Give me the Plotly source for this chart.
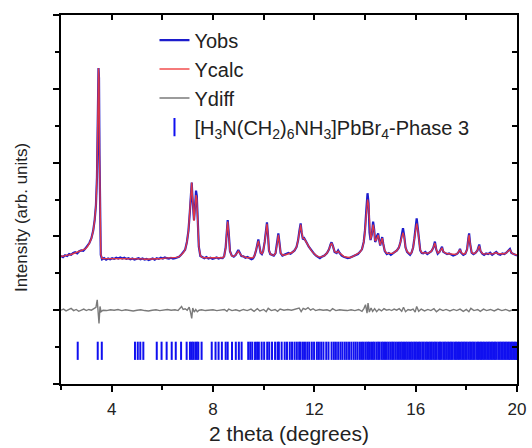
import plotly.graph_objects as go

# ---- data ----
theta = [2.00, 2.08, 2.16, 2.24, 2.32, 2.40, 2.48, 2.56, 2.64, 2.72, 2.80, 2.88, 2.96, 3.04, 3.12, 3.20, 3.27, 3.33, 3.38, 3.42,
         3.45, 3.48, 3.50, 3.52, 3.54, 3.57, 3.62, 3.70, 3.78, 3.86, 3.94, 4.02, 4.10, 4.18, 4.26, 4.34, 4.42, 4.50, 4.58, 4.66,
         4.74, 4.82, 4.90, 4.98, 5.06, 5.14, 5.22, 5.30, 5.38, 5.46, 5.54, 5.62, 5.70, 5.78, 5.86, 5.94, 6.02, 6.10, 6.18, 6.26,
         6.34, 6.42, 6.50, 6.58, 6.66, 6.74, 6.82, 6.90, 6.97, 7.03, 7.08, 7.12, 7.16, 7.19, 7.22, 7.25, 7.29, 7.33, 7.36, 7.40,
         7.44, 7.50, 7.58, 7.66, 7.74, 7.82, 7.90, 7.98, 8.06, 8.14, 8.22, 8.30, 8.38, 8.44, 8.50, 8.55, 8.58, 8.62, 8.67, 8.74,
         8.82, 8.90, 8.96, 9.00, 9.06, 9.12, 9.20, 9.28, 9.36, 9.44, 9.52, 9.58, 9.64, 9.70, 9.75, 9.79, 9.83, 9.88, 9.93, 9.98,
         10.04, 10.09, 10.13, 10.17, 10.21, 10.26, 10.32, 10.40, 10.47, 10.53, 10.58, 10.62, 10.67, 10.74, 10.82, 10.90, 10.98, 11.06, 11.14, 11.22,
         11.30, 11.36, 11.41, 11.46, 11.50, 11.55, 11.60, 11.66, 11.72, 11.78, 11.85, 11.92, 12.00, 12.08, 12.16, 12.22, 12.30, 12.40, 12.50, 12.58,
         12.64, 12.68, 12.73, 12.80, 12.88, 12.94, 13.00, 13.08, 13.16, 13.24, 13.32, 13.40, 13.48, 13.56, 13.64, 13.72, 13.80, 13.88, 13.95, 14.00,
         14.05, 14.10, 14.14, 14.18, 14.22, 14.27, 14.32, 14.36, 14.40, 14.44, 14.48, 14.52, 14.56, 14.60, 14.64, 14.68, 14.72, 14.78, 14.86, 14.94,
         15.02, 15.10, 15.18, 15.26, 15.34, 15.40, 15.45, 15.50, 15.55, 15.60, 15.66, 15.72, 15.78, 15.84, 15.90, 15.95, 16.00, 16.04, 16.08, 16.13,
         16.18, 16.24, 16.30, 16.38, 16.46, 16.54, 16.62, 16.70, 16.76, 16.81, 16.87, 16.94, 17.00, 17.04, 17.09, 17.16, 17.24, 17.32, 17.40, 17.48,
         17.56, 17.64, 17.70, 17.75, 17.80, 17.88, 17.96, 18.03, 18.08, 18.11, 18.15, 18.21, 18.28, 18.36, 18.44, 18.51, 18.56, 18.63, 18.70, 18.78,
         18.86, 18.94, 19.02, 19.10, 19.18, 19.26, 19.34, 19.42, 19.50, 19.58, 19.66, 19.72, 19.78, 19.86, 19.94, 20.00]

y_obs = [3.47, 3.44, 3.49, 3.47, 3.52, 3.50, 3.55, 3.57, 3.54, 3.60, 3.62, 3.61, 3.67, 3.74, 3.82, 3.95, 4.15, 4.45, 4.85, 5.60,
         6.90, 8.56, 8.30, 6.20, 4.30, 3.50, 3.38, 3.41, 3.37, 3.40, 3.38, 3.41, 3.39, 3.42, 3.40, 3.43, 3.40, 3.42, 3.39, 3.41,
         3.38, 3.40, 3.37, 3.39, 3.41, 3.38, 3.40, 3.37, 3.39, 3.36, 3.38, 3.40, 3.37, 3.41, 3.39, 3.42, 3.40, 3.43, 3.41, 3.40,
         3.42, 3.40, 3.41, 3.43, 3.45, 3.50, 3.56, 3.64, 3.85, 4.15, 4.60, 5.10, 5.46, 5.05, 4.50, 4.44, 4.80, 5.24, 5.10, 4.40,
         3.72, 3.47, 3.43, 3.41, 3.44, 3.40, 3.42, 3.39, 3.41, 3.43, 3.40, 3.42, 3.41, 3.46, 3.70, 4.20, 4.44, 4.10, 3.60, 3.48,
         3.45, 3.50, 3.58, 3.63, 3.55, 3.47, 3.46, 3.42, 3.44, 3.41, 3.38, 3.40, 3.48, 3.62, 3.82, 3.92, 3.75, 3.55, 3.52, 3.60,
         3.85, 4.20, 4.38, 4.05, 3.62, 3.52, 3.50, 3.48, 3.55, 3.80, 4.08, 3.85, 3.55, 3.48, 3.50, 3.52, 3.55, 3.53, 3.58, 3.62,
         3.72, 3.90, 4.15, 4.35, 4.10, 3.92, 3.95, 3.85, 3.80, 3.72, 3.65, 3.58, 3.52, 3.47, 3.43, 3.41, 3.45, 3.48, 3.55, 3.65,
         3.78, 3.84, 3.75, 3.58, 3.55, 3.62, 3.55, 3.48, 3.45, 3.43, 3.41, 3.42, 3.44, 3.47, 3.50, 3.52, 3.58, 3.65, 3.85, 4.17,
         4.70, 5.17, 4.90, 4.10, 3.90, 4.05, 4.40, 4.20, 3.85, 3.90, 4.02, 4.08, 3.90, 3.75, 3.88, 3.98, 3.80, 3.60, 3.52, 3.55,
         3.50, 3.53, 3.58, 3.62, 3.70, 3.85, 4.05, 4.22, 4.00, 3.70, 3.58, 3.53, 3.50, 3.56, 3.70, 3.95, 4.30, 4.49, 4.25, 3.85,
         3.62, 3.55, 3.54, 3.58, 3.52, 3.56, 3.60, 3.70, 3.86, 3.65, 3.53, 3.58, 3.68, 3.72, 3.58, 3.55, 3.52, 3.54, 3.50, 3.48,
         3.50, 3.53, 3.58, 3.66, 3.55, 3.50, 3.53, 3.65, 3.95, 4.08, 3.80, 3.56, 3.52, 3.55, 3.62, 3.78, 3.60, 3.53, 3.50, 3.54,
         3.52, 3.56, 3.50, 3.53, 3.58, 3.52, 3.50, 3.54, 3.52, 3.56, 3.62, 3.66, 3.55, 3.52, 3.50, 3.48]

y_calc = [3.47, 3.46, 3.48, 3.48, 3.50, 3.51, 3.53, 3.55, 3.56, 3.58, 3.60, 3.62, 3.66, 3.72, 3.81, 3.94, 4.14, 4.44, 4.85, 5.62,
          6.95, 8.56, 8.32, 6.25, 4.35, 3.52, 3.40, 3.40, 3.39, 3.39, 3.39, 3.40, 3.40, 3.40, 3.40, 3.41, 3.41, 3.40, 3.40, 3.40,
          3.39, 3.39, 3.39, 3.39, 3.39, 3.39, 3.39, 3.38, 3.38, 3.38, 3.38, 3.39, 3.39, 3.39, 3.40, 3.40, 3.40, 3.41, 3.41, 3.41,
          3.41, 3.41, 3.42, 3.43, 3.45, 3.49, 3.55, 3.64, 3.84, 4.14, 4.62, 5.15, 5.46, 5.08, 4.52, 4.42, 4.76, 5.12, 5.02, 4.38,
          3.74, 3.48, 3.43, 3.42, 3.42, 3.41, 3.41, 3.41, 3.41, 3.41, 3.41, 3.41, 3.42, 3.46, 3.68, 4.18, 4.40, 4.08, 3.60, 3.47,
          3.46, 3.50, 3.57, 3.60, 3.54, 3.48, 3.45, 3.43, 3.42, 3.42, 3.41, 3.42, 3.48, 3.62, 3.80, 3.88, 3.74, 3.56, 3.53, 3.60,
          3.84, 4.18, 4.34, 4.04, 3.63, 3.53, 3.50, 3.49, 3.55, 3.79, 4.04, 3.84, 3.56, 3.49, 3.49, 3.51, 3.53, 3.54, 3.57, 3.62,
          3.72, 3.90, 4.14, 4.32, 4.12, 3.95, 3.94, 3.86, 3.79, 3.72, 3.65, 3.58, 3.52, 3.48, 3.45, 3.44, 3.45, 3.48, 3.55, 3.65,
          3.77, 3.82, 3.74, 3.59, 3.56, 3.60, 3.55, 3.49, 3.46, 3.44, 3.43, 3.43, 3.44, 3.47, 3.49, 3.52, 3.57, 3.65, 3.84, 4.15,
          4.66, 5.00, 4.86, 4.12, 3.92, 4.04, 4.32, 4.18, 3.88, 3.90, 4.00, 4.04, 3.90, 3.77, 3.87, 3.95, 3.80, 3.61, 3.54, 3.54,
          3.52, 3.54, 3.58, 3.62, 3.70, 3.84, 4.02, 4.10, 3.98, 3.70, 3.59, 3.54, 3.52, 3.56, 3.70, 3.94, 4.26, 4.35, 4.20, 3.84,
          3.63, 3.56, 3.55, 3.56, 3.54, 3.56, 3.60, 3.70, 3.82, 3.66, 3.55, 3.58, 3.66, 3.69, 3.59, 3.55, 3.53, 3.53, 3.52, 3.51,
          3.51, 3.53, 3.58, 3.64, 3.56, 3.52, 3.54, 3.64, 3.93, 4.04, 3.80, 3.57, 3.53, 3.55, 3.62, 3.75, 3.61, 3.54, 3.52, 3.53,
          3.53, 3.54, 3.52, 3.53, 3.56, 3.53, 3.52, 3.53, 3.53, 3.55, 3.61, 3.64, 3.56, 3.52, 3.51, 3.50]

theta_diff = [2.00, 2.10, 2.20, 2.30, 2.40, 2.50, 2.60, 2.70, 2.80, 2.90, 3.00, 3.10, 3.20, 3.30, 3.38, 3.43, 3.47, 3.50, 3.54, 3.58,
              3.66, 3.80, 3.95, 4.10, 4.25, 4.40, 4.55, 4.70, 4.85, 5.00, 5.15, 5.30, 5.45, 5.60, 5.75, 5.90, 6.05, 6.20, 6.35, 6.50,
              6.62, 6.70, 6.76, 6.82, 6.90, 6.98, 7.06, 7.12, 7.16, 7.20, 7.26, 7.32, 7.38, 7.45, 7.55, 7.70, 7.85, 8.00, 8.15, 8.30,
              8.45, 8.55, 8.62, 8.75, 8.90, 9.05, 9.20, 9.35, 9.50, 9.62, 9.75, 9.85, 10.00, 10.10, 10.18, 10.30, 10.45, 10.55, 10.65, 10.80,
              10.95, 11.10, 11.25, 11.40, 11.48, 11.56, 11.65, 11.75, 11.85, 11.95, 12.05, 12.20, 12.35, 12.50, 12.62, 12.72, 12.85, 13.00, 13.15, 13.30,
              13.45, 13.60, 13.75, 13.88, 13.96, 14.02, 14.08, 14.12, 14.17, 14.24, 14.30, 14.38, 14.46, 14.55, 14.65, 14.75, 14.85, 14.95, 15.05, 15.15,
              15.25, 15.35, 15.45, 15.52, 15.60, 15.70, 15.80, 15.90, 15.98, 16.04, 16.12, 16.22, 16.35, 16.48, 16.60, 16.72, 16.82, 16.95, 17.08, 17.20,
              17.35, 17.50, 17.62, 17.75, 17.88, 18.00, 18.10, 18.18, 18.30, 18.45, 18.55, 18.68, 18.80, 18.95, 19.10, 19.25, 19.40, 19.55, 19.70, 19.85,
              20.00]

y_diff = [2.00, 2.03, 1.98, 2.02, 2.05, 1.99, 2.02, 1.97, 2.01, 2.03, 1.99, 2.02, 2.00, 2.04, 2.08, 2.28, 1.95, 1.64, 2.10, 1.96,
          2.00, 1.99, 2.01, 2.00, 2.02, 1.99, 2.01, 2.00, 1.98, 2.00, 2.01, 1.99, 1.98, 2.00, 2.01, 1.99, 2.00, 2.02, 2.00, 2.01,
          1.99, 2.05, 2.10, 2.02, 2.04, 2.00, 2.08, 1.92, 1.78, 2.06, 1.95, 2.02, 1.96, 2.00, 2.01, 1.99, 2.00, 2.01, 1.99, 2.00,
          2.02, 1.97, 2.03, 1.99, 2.01, 1.98, 2.02, 1.99, 2.03, 1.97, 2.04, 1.98, 2.02, 1.96, 2.05, 1.99, 2.02, 1.97, 2.03, 2.00,
          2.02, 2.00, 2.03, 2.06, 1.96, 2.05, 2.02, 2.07, 2.00, 2.04, 1.99, 2.02, 2.00, 2.01, 1.98, 2.04, 1.99, 2.01, 2.00, 1.99,
          2.01, 1.99, 2.02, 1.97, 2.05, 2.15, 1.92, 2.19, 1.95, 2.06, 1.97, 2.04, 1.96, 2.03, 1.98, 2.04, 2.00, 2.02, 1.99, 2.03,
          2.00, 2.04, 1.97, 2.08, 1.96, 2.02, 2.00, 2.03, 1.95, 2.10, 1.97, 2.03, 1.98, 2.02, 1.99, 2.04, 1.96, 2.03, 1.99, 2.02,
          1.98, 2.02, 1.99, 2.03, 1.97, 2.02, 1.96, 2.05, 1.99, 2.02, 1.97, 2.03, 1.99, 2.02, 1.98, 2.03, 1.99, 2.02, 1.98, 2.01,
          2.00]

bragg_theta = [2.66, 3.45, 3.61, 4.92, 5.03, 5.13, 5.25, 5.78, 5.97, 6.17, 6.37, 6.53, 6.74, 6.96, 7.09, 7.16, 7.22, 7.30, 7.36, 7.42,
               7.55, 7.95, 8.10, 8.22, 8.35, 8.50, 8.58, 8.75, 8.90, 9.02, 9.13, 9.39, 9.47, 9.55, 9.66, 9.74, 9.81, 9.92, 10.02, 10.14,
               10.22, 10.33, 10.45, 10.55, 10.60, 10.71, 10.83, 10.92, 11.03, 11.12, 11.22, 11.31, 11.40, 11.46, 11.55, 11.63, 11.72, 11.80, 11.90, 11.99,
               12.10, 12.18, 12.27, 12.36, 12.47, 12.56, 12.68, 12.77, 12.85, 12.94, 13.03, 13.11, 13.20, 13.28, 13.37, 13.46, 13.55, 13.63, 13.71, 13.80,
               13.88, 13.95, 14.03, 14.10, 14.16, 14.24, 14.31, 14.37, 14.45, 14.52, 14.58, 14.66, 14.72, 14.79, 14.86, 14.93, 15.00, 15.07, 15.13, 15.20,
               15.27, 15.34, 15.41, 15.47, 15.54, 15.61, 15.67, 15.74, 15.81, 15.87, 15.94, 16.00, 16.06, 16.13, 16.19, 16.26, 16.32, 16.39, 16.45, 16.52,
               16.58, 16.64, 16.71, 16.77, 16.83, 16.90, 16.96, 17.02, 17.09, 17.15, 17.21, 17.28, 17.34, 17.40, 17.46, 17.53, 17.59, 17.65, 17.71, 17.78,
               17.84, 17.90, 17.96, 18.02, 18.09, 18.15, 18.21, 18.27, 18.33, 18.40, 18.46, 18.52, 18.58, 18.64, 18.70, 18.77, 18.83, 18.89, 18.95, 19.01,
               19.07, 19.13, 19.19, 19.26, 19.32, 19.38, 19.44, 19.50, 19.56, 19.62, 19.68, 19.74, 19.80, 19.86, 19.92, 19.98]
bragg_level = 0.9

x_tick_vals = [4, 8, 12, 16, 20]
x_tick_text = ["4", "8", "12", "16", "20"]
x_range = [2, 20]
y_range = [0, 10]

FONT = "Liberation Sans, Arial, sans-serif"
TXT = "#222222"

fig = go.Figure()
fig.add_trace(go.Scatter(x=theta, y=y_obs, mode="lines", name="Yobs",
                         line=dict(color="#1c1ccc", width=2.2), legendgroup="a"))
fig.add_trace(go.Scatter(x=theta, y=y_calc, mode="lines", name="Ycalc",
                         line=dict(color="#f03a3a", width=1.4), opacity=0.9, legendgroup="b"))
fig.add_trace(go.Scatter(x=theta_diff, y=y_diff, mode="lines", name="Ydiff",
                         line=dict(color="#7a7a7a", width=1.4), legendgroup="c"))
fig.add_trace(go.Scatter(x=bragg_theta, y=[bragg_level] * len(bragg_theta), mode="markers",
                         name="[H<sub>3</sub>N(CH<sub>2</sub>)<sub>6</sub>NH<sub>3</sub>]PbBr<sub>4</sub>-Phase 3",
                         marker=dict(symbol="line-ns", size=13, color="#1010f0",
                                     line=dict(color="#1010f0", width=2)),
                         legendgroup="d"))
# empty traces so the mirrored (top / right) axes get drawn
fig.add_trace(go.Scatter(x=[], y=[], xaxis="x2", yaxis="y", showlegend=False, hoverinfo="skip"))
fig.add_trace(go.Scatter(x=[], y=[], xaxis="x", yaxis="y2", showlegend=False, hoverinfo="skip"))

axis_common = dict(showgrid=False, zeroline=False, showline=True, linecolor="black", linewidth=1.8,
                   tickcolor="black", tickwidth=1.5, automargin=False)

fig.update_layout(
    width=532, height=448,
    margin=dict(l=61, r=15, t=15, b=64),
    paper_bgcolor="white", plot_bgcolor="white",
    font=dict(family=FONT, color=TXT, size=16),
    showlegend=True,
    legend=dict(x=0.205, y=0.985, xanchor="left", yanchor="top", bgcolor="rgba(0,0,0,0)",
                font=dict(size=20, family=FONT, color=TXT), tracegroupgap=0,
                itemwidth=30),
    xaxis=dict(range=x_range, tickmode="array", tickvals=x_tick_vals, ticktext=x_tick_text,
               ticks="outside", ticklen=6, ticklabelstandoff=3,
               minor=dict(dtick=2, tick0=0, ticks="outside", ticklen=4, tickcolor="black", tickwidth=1.5),
               title=dict(text="2 theta (degrees)", font=dict(size=21, family=FONT, color=TXT), standoff=8),
               tickfont=dict(size=17, family=FONT, color=TXT),
               **axis_common),
    yaxis=dict(range=y_range, dtick=2, tick0=0, ticks="outside", ticklen=6, showticklabels=False,
               minor=dict(dtick=1, tick0=0, ticks="outside", ticklen=4, tickcolor="black", tickwidth=1.5),
               **axis_common),
    xaxis2=dict(range=x_range, overlaying="x", side="top", anchor="y", dtick=2, tick0=0,
                ticks="inside", ticklen=5, showticklabels=False, **axis_common),
    yaxis2=dict(range=y_range, overlaying="y", side="right", anchor="x", dtick=1, tick0=0,
                ticks="inside", ticklen=5, showticklabels=False, **axis_common),
    annotations=[dict(text="Intensity (arb. units)", xref="paper", yref="paper",
                      x=-0.088, y=0.452, xanchor="center", yanchor="middle", textangle=-90,
                      showarrow=False, font=dict(size=17, family=FONT, color=TXT))],
)

fig.write_html("out.html")
